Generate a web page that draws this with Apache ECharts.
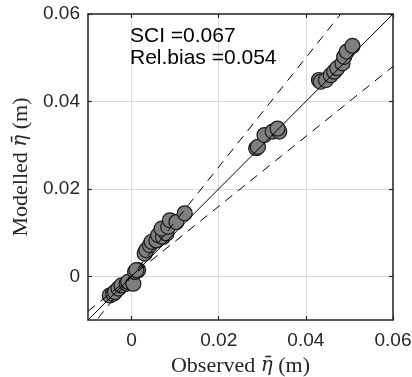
<!DOCTYPE html>
<html>
<head>
<meta charset="utf-8">
<script src="https://cdn.jsdelivr.net/npm/echarts@6/dist/echarts.min.js"></script>
<style>
html,body{margin:0;padding:0;background:#fff;}
#chart{width:412px;height:377px;}
</style>
</head>
<body>
<div id="chart"></div>
<script>
// observed vs modelled setup (m)
var obsX = [-0.0050, -0.0042, -0.0038, -0.0030, -0.0023, -0.0011, -0.0008, 0.0004, 0.0008, 0.0015, 0.0011,
    0.0030, 0.0034, 0.0042, 0.0046, 0.0057, 0.0061, 0.0072, 0.0080, 0.0069, 0.0084, 0.0088, 0.0103, 0.0122,
    0.0286, 0.0290, 0.0305, 0.0324, 0.0339, 0.0335,
    0.0430, 0.0434, 0.0446, 0.0457, 0.0465, 0.0472, 0.0484, 0.0488, 0.0494, 0.0507];
var modY = [-0.0044, -0.0040, -0.0036, -0.0028, -0.0021, -0.0017, -0.0013, -0.0017, 0.0010, 0.0014, 0.0014,
    0.0052, 0.0060, 0.0071, 0.0079, 0.0082, 0.0094, 0.0090, 0.0098, 0.0109, 0.0113, 0.0128, 0.0124, 0.0144,
    0.0293, 0.0296, 0.0323, 0.0331, 0.0331, 0.0338,
    0.0449, 0.0445, 0.0449, 0.0460, 0.0468, 0.0476, 0.0487, 0.0502, 0.0514, 0.0527];
var tickVals = [0, 0.02, 0.04, 0.06];
var oneToOne = [[-0.01, -0.01], [0.06, 0.06]];
var upperBand = [[-0.01, -0.0125], [0.048, 0.06]];
var lowerBand = [[-0.01, -0.008], [0.06, 0.048]];
var statLines = ['SCI =0.067', 'Rel.bias =0.054'];

var chart = echarts.init(document.getElementById('chart'));
var pts = [];
for (var i = 0; i < obsX.length; i++) {
    pts.push([obsX[i], modY[i]]);
}
function fmt(v) {
    return v === 0 ? '0' : v.toFixed(2);
}
var axisCol = '#262626';
var gridCol = '#dcdcdc';
var serif = 'Liberation Serif';

function mkAxis(pos, isMain, name) {
    return {
        type: 'value',
        position: pos,
        min: -0.01,
        max: 0.06,
        name: isMain ? name : '',
        nameLocation: 'middle',
        nameGap: pos === 'bottom' ? 32 : 56,
        nameTextStyle: {
            fontFamily: serif, fontSize: 22, color: axisCol,
            rich: { i: { fontFamily: 'DejaVu Serif', fontSize: 20, fontStyle: 'italic', color: axisCol } }
        },
        axisLine: { show: true, onZero: false, lineStyle: { color: axisCol, width: 1.5 } },
        axisTick: { show: true, inside: true, length: 4, customValues: tickVals, lineStyle: { color: axisCol, width: 1.2 } },
        axisLabel: {
            show: isMain, customValues: tickVals, formatter: fmt,
            fontFamily: 'Liberation Sans', fontSize: 19, color: axisCol,
            margin: pos === 'bottom' ? 11 : 8
        },
        splitLine: { show: isMain, lineStyle: { color: gridCol, width: 1 } }
    };
}

var option = {
    animation: false,
    backgroundColor: '#fff',
    grid: { left: 88, right: 19, top: 14, bottom: 57, containLabel: false, outerBoundsMode: 'none' },
    xAxis: [mkAxis('bottom', true, 'Observed {i|\u03B7\u0304} (m)'), mkAxis('top', false)],
    yAxis: [mkAxis('left', true, 'Modelled {i|\u03B7\u0304} (m)'), mkAxis('right', false)],
    graphic: [{
        type: 'text',
        left: 130,
        top: 25,
        z: 10,
        style: {
            text: statLines.join('\n'),
            font: '21px "Liberation Sans"',
            lineHeight: 22,
            fill: '#000'
        }
    }],
    series: [{
        type: 'scatter', data: pts, symbolSize: 15, z: 2,
        itemStyle: { color: '#7f7f7f', borderColor: '#1a1a1a', borderWidth: 1.2, opacity: 1 }
    }, {
        type: 'line', data: oneToOne, symbol: 'none', silent: true,
        lineStyle: { color: '#000', width: 1 }, z: 3
    }, {
        type: 'line', data: upperBand, symbol: 'none', silent: true,
        lineStyle: { color: '#000', width: 1, type: [9, 7] }, z: 3
    }, {
        type: 'line', data: lowerBand, symbol: 'none', silent: true,
        lineStyle: { color: '#000', width: 1, type: [9, 7] }, z: 3
    }]
};
chart.setOption(option);
</script>
</body>
</html>
